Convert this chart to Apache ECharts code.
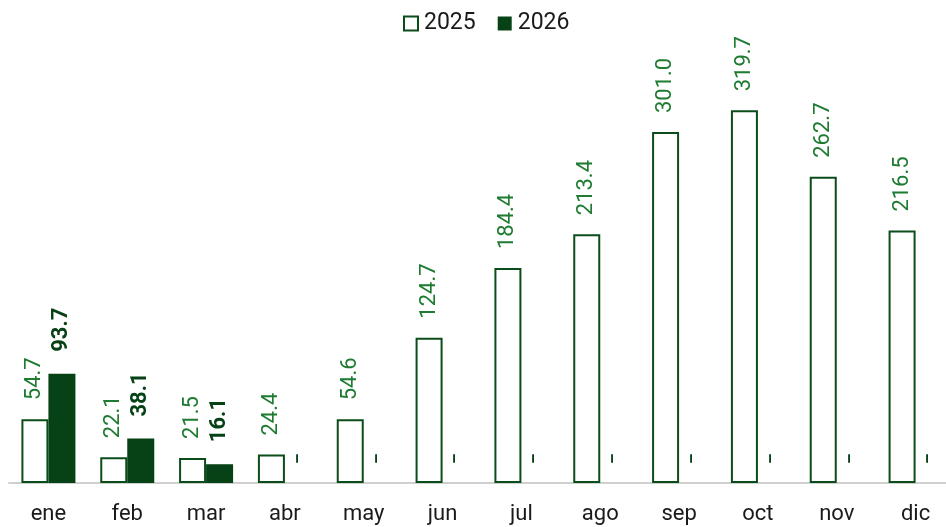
<!DOCTYPE html>
<html>
<head>
<meta charset="utf-8">
<script src="https://cdn.jsdelivr.net/npm/echarts@6/dist/echarts.min.js"></script>
<style>
html,body{margin:0;padding:0;background:#fff;}
#chart{width:946px;height:527px;}
</style>
</head>
<body>
<div id="chart"></div>
<script>
const categories = ['ene','feb','mar','abr','may','jun','jul','ago','sep','oct','nov','dic'];
const seriesNames = ['2025','2026'];
const values2025 = [54.7, 22.1, 21.5, 24.4, 54.6, 124.7, 184.4, 213.4, 301.0, 319.7, 262.7, 216.5];
const values2026 = [93.7, 38.1, 16.1, 0, 0, 0, 0, 0, 0, 0, 0, 0];

const chart = echarts.init(document.getElementById('chart'));
const FONT = 'Roboto';
function fmt(v){ return v === 0 ? '–' : v.toFixed(1); }

const option = {
  animation: false,
  textStyle: { fontFamily: FONT },
  legend: {
    top: 7, left: 398, padding: 5,
    itemWidth: 14, itemHeight: 14, itemGap: 22,
    textStyle: { fontSize: 23, color: '#1a1a1a', fontFamily: FONT, padding: [0, 0, 0, 1] },
    data: [
      { name: seriesNames[0], icon: 'rect', itemStyle: { color: '#fff', borderColor: '#0b4d1a', borderWidth: 2 } },
      { name: seriesNames[1], icon: 'rect' }
    ]
  },
  grid: { left: 9, top: 40, width: 946, height: 443, containLabel: false, outerBoundsMode: 'none' },
  xAxis: {
    type: 'category', data: categories,
    axisLine: { lineStyle: { color: '#d0d0d0', width: 2 } },
    axisTick: { show: false },
    axisLabel: { fontSize: 22, color: '#1a1a1a', margin: 20, fontFamily: FONT }
  },
  yAxis: { type: 'value', min: 0, max: 380, show: false, splitLine: { show: false } },
  series: [
    {
      name: seriesNames[0], type: 'bar', data: values2025,
      barWidth: 27, barGap: '0%',
      itemStyle: { color: '#ffffff', borderColor: '#0b4d1a', borderWidth: 2 },
      label: {
        show: true, position: 'top', rotate: 90, align: 'left', verticalAlign: 'middle',
        distance: 19, fontSize: 22, color: '#1e7b31', fontFamily: FONT,
        formatter: p => fmt(p.value)
      }
    },
    {
      name: seriesNames[1], type: 'bar',
      data: values2026.map(v => v === 0
        ? { value: v, label: { distance: 19, fontSize: 17 } }
        : { value: v }),
      barWidth: 27,
      itemStyle: { color: '#074116' },
      label: {
        show: true, position: 'top', rotate: 90, align: 'left', verticalAlign: 'middle',
        distance: 22, fontSize: 22, fontWeight: 'bold', color: '#074116', fontFamily: FONT,
        formatter: p => fmt(p.value)
      }
    }
  ]
};
chart.setOption(option);
</script>
</body>
</html>
